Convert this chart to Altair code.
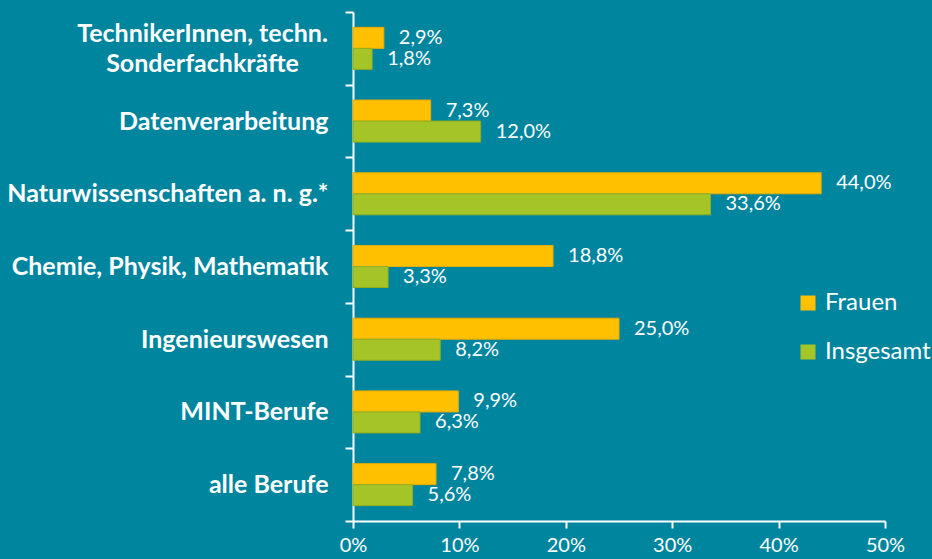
import altair as alt
import pandas as pd

categories = [
    "TechnikerInnen, techn. Sonderfachkräfte",
    "Datenverarbeitung",
    "Naturwissenschaften a. n. g.*",
    "Chemie, Physik, Mathematik",
    "Ingenieurswesen",
    "MINT-Berufe",
    "alle Berufe",
]
frauen = [2.9, 7.3, 44.0, 18.8, 25.0, 9.9, 7.8]
insgesamt = [1.8, 12.0, 33.6, 3.3, 8.2, 6.3, 5.6]
series = ["Frauen", "Insgesamt"]
x_ticks = [0, 10, 20, 30, 40, 50]

rows = []
for c, f, i in zip(categories, frauen, insgesamt):
    rows.append({"cat": c, "serie": "Frauen", "val": f})
    rows.append({"cat": c, "serie": "Insgesamt", "val": i})
df = pd.DataFrame(rows)

BG = "#00859F"
FONT = "Lato"
MULTI = "TechnikerInnen, techn. Sonderfachkräfte"
is_multi = f"datum.value == '{MULTI}'"

label_expr = (
    f"datum.label == '{MULTI}' ? "
    "['TechnikerInnen, techn.', 'Sonderfachkräfte'] : datum.label"
)

y_enc = alt.Y(
    "cat:N",
    sort=categories,
    scale=alt.Scale(paddingInner=0, paddingOuter=0),
    axis=alt.Axis(
        title=None,
        labelExpr=label_expr,
        labelFont=FONT,
        labelFontWeight="bold",
        labelFontSize=25,
        labelColor="white",
        labelPadding={"condition": {"test": is_multi, "value": 143}, "value": 17},
        labelAlign={"condition": {"test": is_multi, "value": "center"}, "value": "right"},
        labelLineHeight=30,
        labelLimit=400,
        labelOffset={"condition": {"test": is_multi, "value": -15}, "value": 0},
        tickBand="extent",
        tickColor="white",
        tickSize=8,
        tickWidth=2,
        domainColor="white",
        domainWidth=2,
    ),
)
yoff = alt.YOffset(
    "serie:N",
    sort=series,
    scale=alt.Scale(paddingInner=0, paddingOuter=0.73),
)
x_enc = alt.X(
    "val:Q",
    scale=alt.Scale(domain=[0, 50], nice=False),
    axis=alt.Axis(
        title=None,
        values=x_ticks,
        labelExpr="datum.value + '%'",
        labelFont=FONT,
        labelFontSize=20,
        labelColor="white",
        labelPadding=7,
        tickColor="white",
        tickSize=7,
        tickWidth=2,
        domainColor="white",
        domainWidth=2,
        grid=False,
        labelFlush=False,
    ),
)
color = alt.Color(
    "serie:N",
    sort=series,
    scale=alt.Scale(domain=series, range=["#FFC000", "#A5C427"]),
    legend=alt.Legend(
        title=None,
        orient="none",
        legendX=443,
        legendY=279,
        symbolType="square",
        symbolSize=225,
        symbolStrokeWidth=0,
        labelFont=FONT,
        labelFontSize=24,
        labelColor="white",
        rowPadding=25,
        labelOffset=5,
    ),
)
stroke = alt.Stroke(
    "serie:N",
    sort=series,
    scale=alt.Scale(domain=series, range=["#E8AC00", "#8FAE1E"]),
    legend=None,
)

bars = alt.Chart(df).mark_bar(strokeWidth=1).encode(
    y=y_enc, yOffset=yoff, x=x_enc, color=color, stroke=stroke
)
text = (
    alt.Chart(df)
    .transform_calculate(lbl="replace(format(datum.val, '.1f'), '.', ',') + '%'")
    .mark_text(align="left", baseline="middle", dx=15, font=FONT, fontSize=20, color="white")
    .encode(y=y_enc, yOffset=yoff, x=x_enc, text="lbl:N")
)

chart = (
    alt.layer(bars, text)
    .properties(
        width=532,
        height=509,
        background=BG,
        autosize=alt.AutoSizeParams(type="none"),
        padding={"left": 353, "top": 12, "right": 47, "bottom": 38},
    )
    .configure_view(stroke=None)
)
chart.save("out.html", embed_options={"renderer": "svg", "actions": False})
